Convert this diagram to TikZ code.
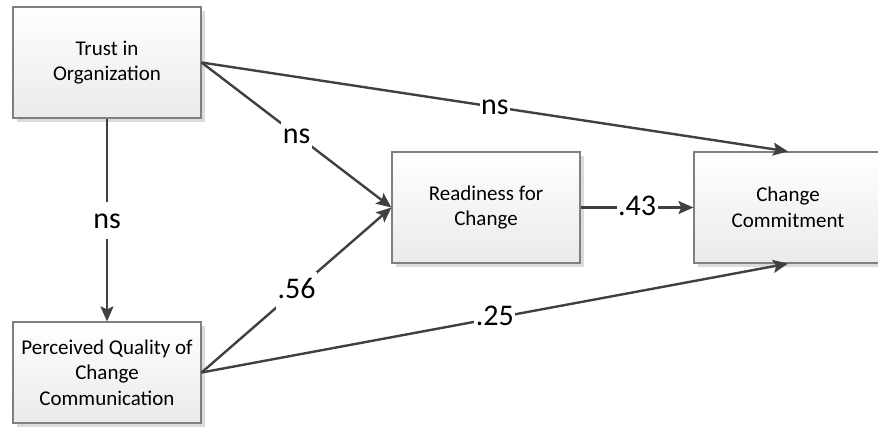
\documentclass[tikz,border=0pt]{standalone}
\usepackage{fontspec}
\setmainfont{Carlito}
\usetikzlibrary{arrows.meta,shadows}
\definecolor{linec}{HTML}{404040}
\definecolor{boxline}{HTML}{7F7F7F}
\definecolor{boxbot}{HTML}{EAEAEA}
\begin{document}
\begin{tikzpicture}[x=1pt,y=-1pt,
  box/.style={draw=boxline, line width=1.2pt, top color=white, bottom color=boxbot,
    minimum width=188pt, align=center, inner sep=0pt,
    font=\fontsize{21}{25.5}\selectfont,
    drop shadow={shadow xshift=3.5pt, shadow yshift=-3.5pt, fill=black!14, opacity=1}},
  conn/.style={draw=linec, line width=2.4pt, -{Stealth[length=15pt,width=13pt,inset=3pt]}},
  lbl/.style={midway, fill=white, inner xsep=1.5pt, inner ysep=0pt, text height=27pt, text depth=10pt,
    font=\fontsize{30}{30}\selectfont, text=black}]
\useasboundingbox (0,0) rectangle (878,434);
\node[box, minimum height=111pt] (trust) at (107,62.5) {Trust in\\Organization};
\node[box, minimum height=101pt] (perc) at (107,372.5) {Perceived Quality of\\Change\\Communication};
\node[box, minimum height=111pt] (ready) at (486,207.5) {Readiness for\\Change};
\node[box, minimum height=111pt] (commit) at (788,207.5) {Change\\Commitment};
\draw[conn] (trust.south) -- (perc.north) node[lbl] {ns};
\draw[conn] (trust.east) -- (ready.west) node[lbl] {ns};
\draw[conn] (trust.east) -- (commit.north) node[lbl, text height=20pt, text depth=5pt] {ns};
\draw[conn] (perc.east) -- (ready.west) node[lbl] {.56};
\draw[conn] (perc.east) -- (commit.south) node[lbl, text height=20pt, text depth=5pt] {.25};
\draw[conn] (ready.east) -- (commit.west) node[lbl, text height=20pt, text depth=5pt] {.43};
\end{tikzpicture}
\end{document}
